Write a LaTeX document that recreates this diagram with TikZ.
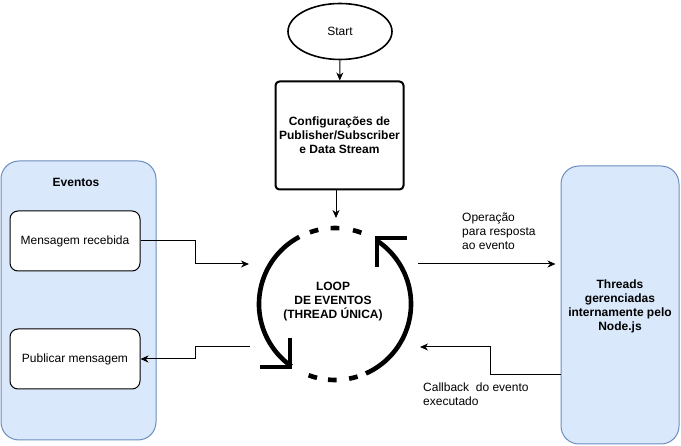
\documentclass[tikz,border=0pt]{standalone}
\usepackage{fontspec}
\setmainfont{Liberation Sans}
\usetikzlibrary{arrows.meta,shapes.geometric}
\definecolor{bluefill}{HTML}{DAE8FC}
\definecolor{bluedraw}{HTML}{6C8EBF}
\begin{document}
\begin{tikzpicture}[x=1pt,y=-1pt,
  every node/.style={font=\fontsize{12}{14}\selectfont},
  container/.style={draw=bluedraw,fill=bluefill,line width=1pt,rounded corners=18pt,inner sep=0pt},
  evbox/.style={draw=black,fill=white,line width=1pt,rounded corners=8pt,minimum width=130pt,minimum height=60pt,inner sep=0pt},
  conn/.style={line width=1pt,-{Stealth[length=8pt,width=7pt,inset=2.5pt]}},
  loopline/.style={line width=4.6pt},
  loopdash/.style={line width=4.6pt,line cap=butt},
  lbl/.style={align=left,inner sep=0pt,anchor=north west,font=\fontsize{12}{14}\selectfont}
]
\useasboundingbox (0,0) rectangle (681,446);
% containers
\node[container,minimum width=155pt,minimum height=279pt] (eventos) at (78.5,300.5) {};
\node[font=\bfseries\fontsize{12}{14}\selectfont] (evtitle) at (76,182) {Eventos};
\node[container,minimum width=118pt,minimum height=278pt] (threads) at (620,305) {};
\node[align=center,font=\bfseries\fontsize{12}{14}\selectfont] (thtext) at (620,306) {Threads\\gerenciadas\\internamente pelo\\Node.js};
% event boxes
\node[evbox] (msg) at (75,241) {Mensagem recebida};
\node[evbox] (pub) at (75,359) {Publicar mensagem};
% start and config
\node[draw,ellipse,line width=1.6pt,minimum width=104pt,minimum height=56pt,inner sep=0pt] (start) at (340,31.5) {Start};
\node[draw,line width=2pt,rounded corners=4pt,minimum width=128pt,minimum height=108pt,align=center,inner sep=0pt,font=\bfseries\fontsize{12}{14}\selectfont] (config) at (339.5,135.5) {Configurações de\\Publisher/Subscriber\\e Data Stream};
% loop
\coordinate (lc) at (335,304);
\node[align=center,font=\bfseries\fontsize{12}{14}\selectfont,inner sep=0pt] (loop) at (333,302) {LOOP\\DE EVENTOS\\(THREAD ÚNICA)};
\draw[loopline] (lc) ++(-118:76) arc[start angle=-118,end angle=-235,radius=76];
\draw[loopline] (lc) ++(66:76) arc[start angle=66,end angle=-57,radius=76];
\foreach \a in {-73,-90,-106,76,92,107}{
  \draw[loopdash] (lc) ++(\a-3.3:76) arc[start angle=\a-3.3,end angle=\a+3.3,radius=76];
}
\draw[line width=4.6pt,line join=miter] (290,338) -- (290,367) -- (260,367);
\draw[line width=4.6pt,line join=miter] (407,238) -- (377,238) -- (377,267);
% connection coordinates on the loop
\coordinate (loopN) at (336,218);
\coordinate (loopW1) at (249,264);
\coordinate (loopW2) at (250,347);
\coordinate (loopE1) at (418,264);
\coordinate (loopE2) at (420,347);
% connectors
\draw[conn] (start) -- (config);
\draw[conn] (config.south -| loopN) -- (loopN);
\draw[conn] (msg.east) -- (195,241) |- (loopW1);
\draw[conn] (loopW2) -- (195,347) |- (pub.east);
\draw[conn,shorten >=5pt] (loopE1) -- (threads.west |- loopE1);
\draw[conn] (threads.west |- 0,375) -- (490,375) |- (loopE2);
% labels
\node[lbl] (op) at (462,213) {Operação\\para resposta\\ao evento};
\node[lbl] (cb) at (423,383) {Callback\ \ do evento\\executado};
\end{tikzpicture}
\end{document}
